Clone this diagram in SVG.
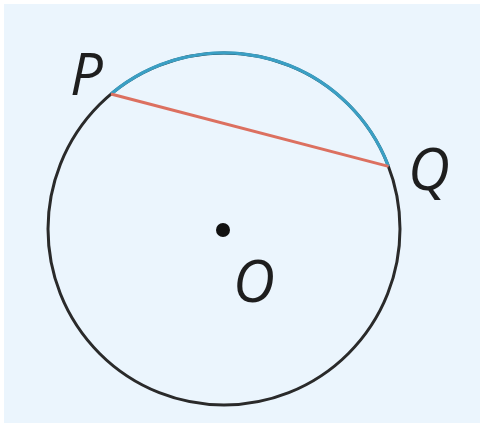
<svg xmlns="http://www.w3.org/2000/svg" width="481" height="425" viewBox="0 0 481 425">
<style>
.lbl{font-family:"Open Sans","Liberation Sans",sans-serif;font-style:italic;font-size:58px;fill:#1e1e1e}
</style>
<rect x="0" y="0" width="481" height="425" fill="#ffffff"/>
<rect x="4" y="4" width="476" height="419" fill="#ebf5fd"/>
<g id="circle">
<circle cx="224" cy="229" r="176" fill="none" stroke="#2a2a2a" stroke-width="3"/>
</g>
<g id="connectors">
<path id="arc" d="M 111 94 A 176 176 0 0 1 388.5 166.4" fill="none" stroke="#3a9fc4" stroke-width="3.2"/>
<line id="chord" x1="111" y1="94" x2="388.5" y2="166.4" stroke="#dc7060" stroke-width="3"/>
</g>
<g id="O">
<circle cx="223" cy="230" r="7" fill="#111"/>
<text class="lbl" x="233" y="302">O</text>
</g>
<g id="P"><text class="lbl" x="70" y="95">P</text></g>
<g id="Q"><text class="lbl" x="408" y="190">Q</text></g>
</svg>
